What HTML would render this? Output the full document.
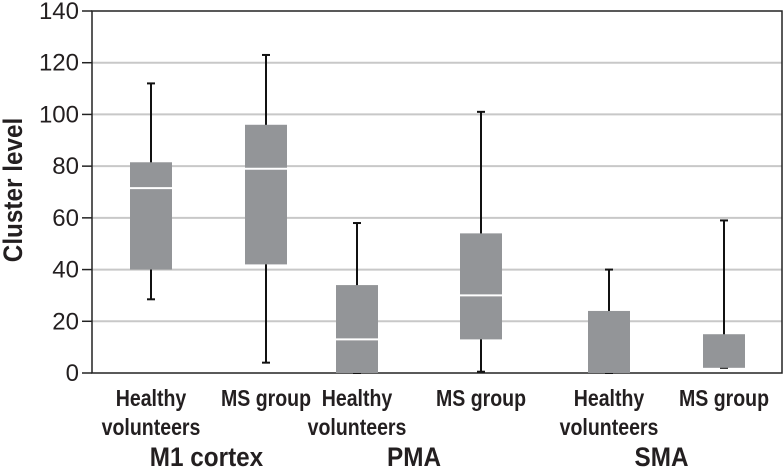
<!DOCTYPE html>
<html><head><meta charset="utf-8"><style>
html,body{margin:0;padding:0;background:#fff;}
svg{display:block;font-family:"Liberation Sans Narrow","Liberation Sans",sans-serif;}
</style></head><body>
<svg id="chart" width="783" height="469" viewBox="0 0 783 469"></svg>
<script>
const categories = ["Healthy volunteers","MS group","Healthy volunteers","MS group","Healthy volunteers","MS group"];
const regions = ["M1 cortex","PMA","SMA"];
const whiskerLow = [28.5, 4, 0, 0.5, 0, 2];
const q1 = [40, 42, 0, 13, 0, 2];
const median = [71.5, 79, 13, 30, 0, 2];
const q3 = [81.5, 96, 34, 54, 24, 15];
const whiskerHigh = [112, 123, 58, 101, 40, 59];
const yTicks = [0,20,40,60,80,100,120,140];

const svgEl = document.getElementById('chart');
const NS = 'http://www.w3.org/2000/svg';
const pL = 92, pR = 782, pT = 11, pB = 373;
const yMax = 140;
const yS = v => pB - v / yMax * (pB - pT);
const centers = [151, 266, 357, 481, 609, 724];
const xS = i => centers[i];
const bw = 42;
function mk(tag, attrs){const e=document.createElementNS(NS,tag);for(const k in attrs)e.setAttribute(k,attrs[k]);svgEl.appendChild(e);return e;}

yTicks.forEach(t=>{
  if(t>0 && t<yMax){
    const g=mk('line',{x1:pL,x2:pR,y1:yS(t),y2:yS(t),stroke:'#c8c8c8','stroke-width':2});
    
    
  }
  const tk=mk('line',{x1:pL-10,x2:pL,y1:yS(t),y2:yS(t),stroke:'#222','stroke-width':1.5});
  
  
  const lb=mk('text',{x:pL-13,y:yS(t)+8,'font-size':24,'text-anchor':'end',fill:'#231f20'});
  lb.textContent=t;
  
  
});
const fr=mk('rect',{x:pL,y:pT,width:pR-pL,height:pB-pT,fill:'none',stroke:'#222','stroke-width':1.5});



categories.forEach((c,i)=>{
  const cx=xS(i);
  const w=mk('line',{x1:cx,x2:cx,y1:yS(whiskerLow[i]),y2:yS(whiskerHigh[i]),stroke:'#111','stroke-width':2});
  
  
  [whiskerLow[i],whiskerHigh[i]].forEach(v=>{
    const cap=mk('line',{x1:cx-4,x2:cx+4,y1:yS(v),y2:yS(v),stroke:'#111','stroke-width':2});
    
    
  });
  const b=mk('rect',{x:cx-bw/2,y:yS(q3[i]),width:bw,height:yS(q1[i])-yS(q3[i]),fill:'#939598'});
  
  
  if(median[i]>q1[i]){
    const m=mk('line',{x1:cx-bw/2,x2:cx+bw/2,y1:yS(median[i]),y2:yS(median[i]),stroke:'#fff','stroke-width':2});
    
    
  }
  const lines = c==="MS group"?[c]:c.split(' ');
  lines.forEach((ln,j)=>{
    const t=mk('text',{x:0,y:0,'font-size':23,'font-weight':'bold','text-anchor':'middle',fill:'#231f20',transform:`translate(${cx},${406+j*29}) scale(0.85,1)`});
    t.textContent=ln;
    
    
  });
});
regions.forEach((r,k)=>{
  const cx=(xS(2*k)+xS(2*k+1))/2 + (k===0?-2:-5);
  const t=mk('text',{x:0,y:0,'font-size':27,'font-weight':'bold','text-anchor':'middle',fill:'#231f20',transform:`translate(${cx},466) scale(0.9,1)`});
  t.textContent=r;
  
  
});
const yt=mk('text',{x:0,y:0,'font-size':27,'font-weight':'bold','text-anchor':'middle',fill:'#231f20',transform:`translate(22,190) rotate(-90) scale(0.9,1)`});
yt.textContent='Cluster level';


</script>
</body></html>
